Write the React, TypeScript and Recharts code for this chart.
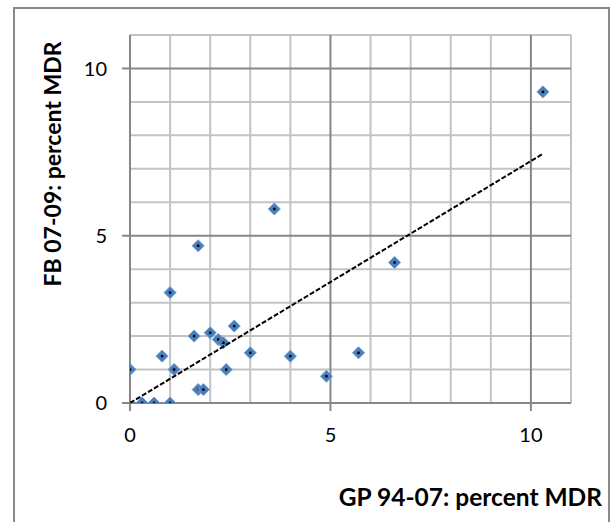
import React from 'react';
import {
  ScatterChart,
  Scatter,
  XAxis,
  YAxis,
  ReferenceLine,
} from 'recharts';

// GP 94-07 (x) vs FB 07-09 (y), percent MDR
const gpValues = [10.3, 3.6, 1.7, 6.6, 1.0, 2.6, 1.6, 2.0, 2.2, 2.33, 3.0, 0.8, 4.0, 5.7, 0, 1.1, 2.4, 4.9, 1.7, 1.83, 0.3, 0.6, 1.0];
const fbValues = [9.3, 5.8, 4.7, 4.2, 3.3, 2.3, 2.0, 2.1, 1.9, 1.8, 1.5, 1.4, 1.4, 1.5, 1.0, 1.0, 1.0, 0.8, 0.4, 0.4, 0, 0, 0];

// dashed trendline end points
const trendX = [0, 10.3];
const trendY = [0, 7.45];

const axisTicks = [0, 5, 10];
const gridSteps = [1, 2, 3, 4, 5, 6, 7, 8, 9, 10, 11];

const points = gpValues.map((x, i) => ({ x, y: fbValues[i] }));
const trend = trendX.map((x, i) => ({ x, y: trendY[i] }));

const MINOR = '#c3c3c3';
const MAJOR = '#878787';
const FONT = 'Lato, "Open Sans", sans-serif';

const Diamond = (props: any) => {
  const { cx, cy } = props;
  if (cx == null || cy == null) return null;
  const r = 6;
  return (
    <g>
      <polygon
        points={`${cx},${cy - r} ${cx + r},${cy} ${cx},${cy + r} ${cx - r},${cy}`}
        fill="#4a7ebb"
        stroke="#6a98d0"
        strokeWidth={1}
      />
      <rect x={cx - 1.2} y={cy - 1.2} width={2.4} height={2.4} fill="#000" />
    </g>
  );
};

const NoShape = () => <g />;

const XTitle = () => (
  <text x={602} y={506} textAnchor="end" fontFamily={FONT} fontWeight="bold" fontSize={24.5} fill="#000">
    GP 94-07: percent MDR
  </text>
);

const YTitle = () => (
  <text
    x={61}
    y={164}
    textAnchor="middle"
    transform="rotate(-90, 61, 164)"
    fontFamily={FONT}
    fontWeight="bold"
    fontSize={23}
    fill="#000"
  >
    FB 07-09: percent MDR
  </text>
);

export default function App() {
  return (
    <div style={{ position: 'absolute', left: 0, top: 0, width: 611, height: 522, overflow: 'hidden', background: '#fff' }}>
      <div
        style={{
          position: 'absolute',
          left: 13,
          top: 7,
          width: 593,
          height: 540,
          border: '2px solid #8a8a8a',
        }}
      />
      <div style={{ position: 'absolute', left: 0, top: 0 }}>
        <ScatterChart width={611} height={522} margin={{ top: 35, right: 40, bottom: 59, left: 0 }}>
          <XAxis
            type="number"
            dataKey="x"
            domain={[0, 11]}
            ticks={axisTicks}
            interval={0}
            allowDataOverflow
            height={60}
            tickSize={8}
            tickMargin={17}
            axisLine={{ stroke: MAJOR, strokeWidth: 2 }}
            tickLine={{ stroke: MAJOR, strokeWidth: 2 }}
            tick={{ fill: '#000', fontSize: 20, fontFamily: FONT }}
            label={{ content: XTitle }}
          />
          <YAxis
            type="number"
            dataKey="y"
            domain={[0, 11]}
            ticks={axisTicks}
            interval={0}
            allowDataOverflow
            width={130}
            tickSize={8}
            tickMargin={15}
            axisLine={{ stroke: MAJOR, strokeWidth: 2 }}
            tickLine={{ stroke: MAJOR, strokeWidth: 2 }}
            tick={{ fill: '#000', fontSize: 20, fontFamily: FONT }}
            label={{ content: YTitle }}
          />
          {gridSteps
            .filter((v) => v % 5 !== 0)
            .map((v) => (
              <ReferenceLine key={`mx${v}`} x={v} stroke={MINOR} strokeWidth={2} />
            ))}
          {gridSteps
            .filter((v) => v % 5 !== 0)
            .map((v) => (
              <ReferenceLine key={`my${v}`} y={v} stroke={MINOR} strokeWidth={2} />
            ))}
          {gridSteps
            .filter((v) => v % 5 === 0)
            .map((v) => (
              <ReferenceLine key={`Mx${v}`} x={v} stroke={MAJOR} strokeWidth={2} />
            ))}
          {gridSteps
            .filter((v) => v % 5 === 0)
            .map((v) => (
              <ReferenceLine key={`My${v}`} y={v} stroke={MAJOR} strokeWidth={2} />
            ))}
          <Scatter data={points} shape={Diamond} isAnimationActive={false} />
          <Scatter
            data={trend}
            line={{ stroke: '#000', strokeWidth: 2, strokeDasharray: '5 2' }}
            shape={NoShape}
            isAnimationActive={false}
          />
        </ScatterChart>
      </div>
    </div>
  );
}
